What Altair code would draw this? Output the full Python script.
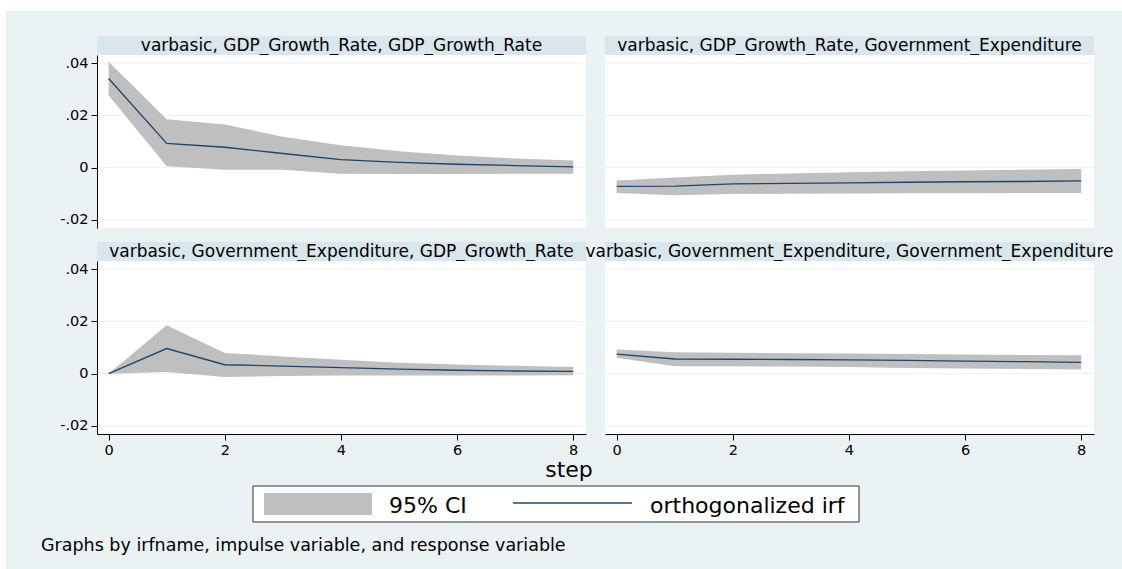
import altair as alt
import pandas as pd

# Impulse-response steps
steps = [0, 1, 2, 3, 4, 5, 6, 7, 8]

# irfname, impulse variable, response variable
panel_titles = [
    "varbasic, GDP_Growth_Rate, GDP_Growth_Rate",
    "varbasic, GDP_Growth_Rate, Government_Expenditure",
    "varbasic, Government_Expenditure, GDP_Growth_Rate",
    "varbasic, Government_Expenditure, Government_Expenditure",
]

# orthogonalized irf and 95% CI bounds, one list per panel
irf_gdp_gdp = [0.0341, 0.0093, 0.0078, 0.0054, 0.0031, 0.0020, 0.0013, 0.0008, 0.0003]
lo_gdp_gdp = [0.0277, 0.0005, -0.0008, -0.0008, -0.0023, -0.0024, -0.0024, -0.0023, -0.0023]
hi_gdp_gdp = [0.0405, 0.0185, 0.0165, 0.0118, 0.0086, 0.0063, 0.0046, 0.0035, 0.0027]

irf_gdp_gov = [-0.0072, -0.0071, -0.0062, -0.0060, -0.0058, -0.0056, -0.0054, -0.0053, -0.0051]
lo_gdp_gov = [-0.0097, -0.0106, -0.0101, -0.0100, -0.0099, -0.0098, -0.0098, -0.0097, -0.0097]
hi_gdp_gov = [-0.0049, -0.0038, -0.0027, -0.0022, -0.0018, -0.0014, -0.0011, -0.0008, -0.0005]

irf_gov_gdp = [0.0, 0.0096, 0.0034, 0.0029, 0.0023, 0.0017, 0.0013, 0.0010, 0.0009]
lo_gov_gdp = [0.0, 0.0006, -0.0013, -0.0009, -0.0007, -0.0007, -0.0007, -0.0007, -0.0006]
hi_gov_gdp = [0.0, 0.0185, 0.0079, 0.0066, 0.0053, 0.0042, 0.0035, 0.0030, 0.0025]

irf_gov_gov = [0.0075, 0.0056, 0.0055, 0.0054, 0.0053, 0.0051, 0.0048, 0.0046, 0.0043]
lo_gov_gov = [0.0061, 0.0028, 0.0028, 0.0027, 0.0025, 0.0022, 0.0020, 0.0018, 0.0016]
hi_gov_gov = [0.0092, 0.0082, 0.0080, 0.0078, 0.0077, 0.0075, 0.0073, 0.0071, 0.0070]

irf_series = [irf_gdp_gdp, irf_gdp_gov, irf_gov_gdp, irf_gov_gov]
lo_series = [lo_gdp_gdp, lo_gdp_gov, lo_gov_gdp, lo_gov_gov]
hi_series = [hi_gdp_gdp, hi_gdp_gov, hi_gov_gdp, hi_gov_gov]

y_ticks = [-0.02, 0.0, 0.02, 0.04]
y_tick_labels = ["-.02", "0", ".02", ".04"]
x_ticks = [0, 2, 4, 6, 8]

legend_labels = ["95% CI", "orthogonalized irf"]
x_title = "step"
note_text = "Graphs by irfname, impulse variable, and response variable"

# Colours and fonts
BG = "#eaf2f3"
STRIP = "#d9e6eb"
CI_FILL = "#bfbfbf"
LINE = "#1a476f"
FONT = "DejaVu Sans"

# Panel geometry (pixels)
W, H = 489, 173
HSPACE, VSPACE = 19, 33
STRIP_H = 19

x_scale = alt.Scale(domain=[-0.2, 8.22], nice=False, zero=False)
y_scale = alt.Scale(domain=[-0.0231, 0.0431], nice=False, zero=False)

label_expr = ""
for v, lab in zip(y_ticks, y_tick_labels):
    label_expr += f"abs(datum.value - ({v})) < 1e-6 ? '{lab}' : "
label_expr += "''"

axis_style = dict(
    title=None,
    grid=False,
    domainColor="black",
    domainWidth=1,
    tickColor="black",
    tickSize=6,
    labelPadding=3,
    labelFont=FONT,
    labelFontSize=14.5,
    labelColor="black",
    labelFlush=False,
    zindex=1,
)


def x_enc(field, show):
    axis = alt.Axis(values=x_ticks, format="d", **axis_style) if show else None
    return alt.X(f"{field}:Q", scale=x_scale, axis=axis)


def y_enc(field, show):
    axis = alt.Axis(values=y_ticks, labelExpr=label_expr, **axis_style) if show else None
    return alt.Y(f"{field}:Q", scale=y_scale, axis=axis)


def one_row():
    return pd.DataFrame({"k": [0]})


def box(x0, x1, y0, y1, **mark):
    return alt.Chart(one_row()).mark_rect(**mark).encode(
        x=alt.value(x0), x2=alt.value(x1), y=alt.value(y0), y2=alt.value(y1)
    )


def label(text, x, y, size, align="left", baseline="alphabetic"):
    return alt.Chart(pd.DataFrame({"t": [text]})).mark_text(
        font=FONT, fontSize=size, color="black", align=align, baseline=baseline
    ).encode(text="t:N", x=alt.value(x), y=alt.value(y))


def panel(i, show_x, show_y, before=(), after=()):
    df = pd.DataFrame({"step": steps, "irf": irf_series[i], "lo": lo_series[i], "hi": hi_series[i]})

    strip = box(0, W, -STRIP_H, 0, color=STRIP)
    title = label(panel_titles[i], W / 2, -STRIP_H / 2, 17, align="center", baseline="middle")
    plot_bg = box(0, W, 0, H, color="white")

    grid = alt.Chart(pd.DataFrame({"v": y_ticks})).mark_rule(color=BG, strokeWidth=1).encode(
        y=y_enc("v", show_y), x=alt.value(0), x2=alt.value(W)
    )
    band = alt.Chart(df).mark_area(color=CI_FILL, opacity=1).encode(
        x=x_enc("step", show_x), y=y_enc("lo", show_y), y2="hi:Q"
    )
    line = alt.Chart(df).mark_line(color=LINE, strokeWidth=1.3).encode(
        x=x_enc("step", show_x), y=y_enc("irf", show_y)
    )

    layers = list(before) + [strip, title, plot_bg, grid, band, line] + list(after)
    return alt.layer(*layers).properties(width=W, height=H)


# Page background, placed relative to the first panel's origin
page_bg = box(-91, 1025, -44, 514, color=BG)

# Legend, x title and note, placed relative to the lower-left panel
legend_and_notes = [
    box(156, 762, 225, 261, fill="white", stroke="#333333", strokeWidth=1),
    box(167, 275, 232, 254, color=CI_FILL),
    label(legend_labels[0], 292, 252, 22),
    alt.Chart(one_row()).mark_rule(color=LINE, strokeWidth=1.3).encode(
        x=alt.value(416), x2=alt.value(535), y=alt.value(242)
    ),
    label(legend_labels[1], 553, 252, 22),
    label(x_title, 472, 216, 22, align="center"),
    label(note_text, -56, 290, 17.5),
]

p1 = panel(0, show_x=False, show_y=True, before=[page_bg])
p2 = panel(1, show_x=False, show_y=False)
p3 = panel(2, show_x=True, show_y=True, after=legend_and_notes)
p4 = panel(3, show_x=True, show_y=False)

chart = (
    alt.concat(p1, p2, p3, p4, columns=2, spacing={"row": VSPACE, "column": HSPACE}, bounds="flush")
    .properties(padding={"left": 6, "top": 11, "right": 0, "bottom": 0}, background="white")
    .configure_view(strokeWidth=0)
)

chart.save("out.html", embed_options={"renderer": "svg", "actions": False})
